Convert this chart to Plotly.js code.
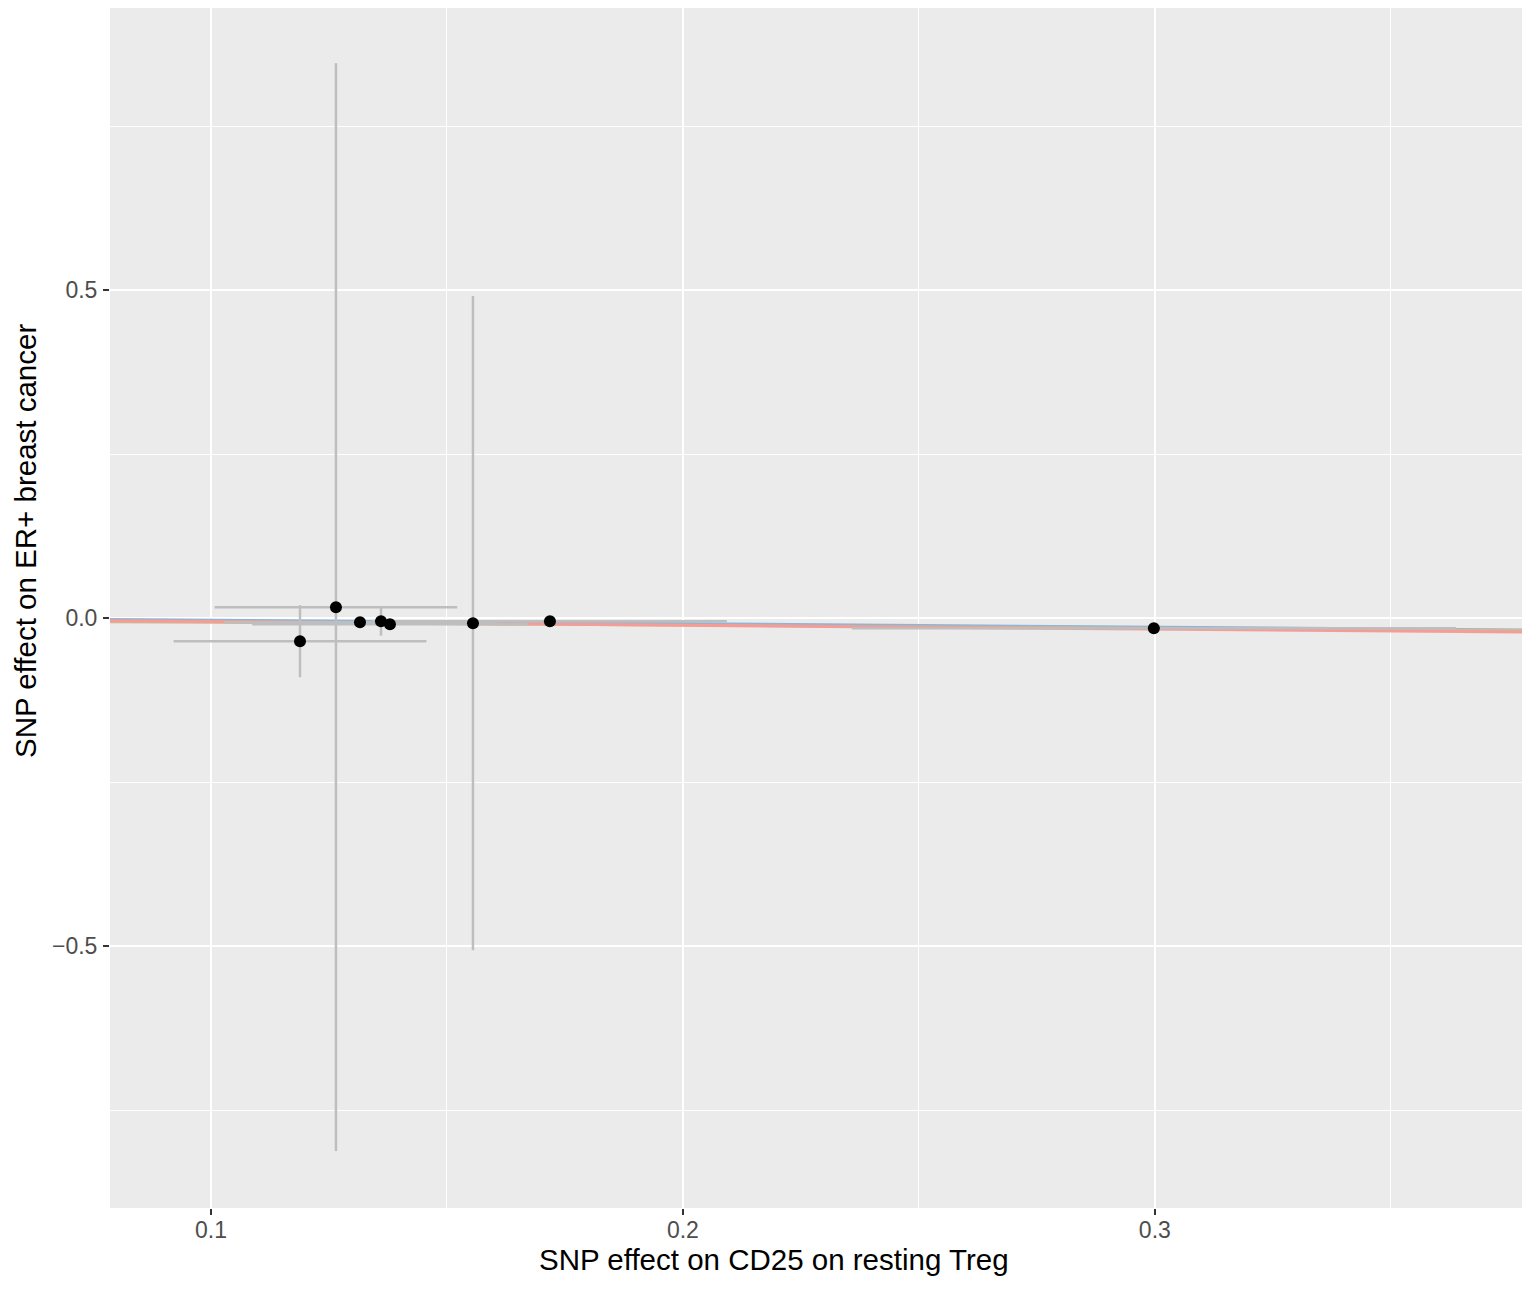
<!DOCTYPE html>
<html>
<head>
<meta charset="utf-8">
<script src="https://cdn.plot.ly/plotly-3.0.1.min.js"></script>
<style>html,body{margin:0;padding:0;background:#fff}</style>
</head>
<body>
<div id="chart" style="width:1536px;height:1291px"></div>
<script>
// SNP effects on exposure (x) and outcome (y), with standard errors
const snpX  = [0.11886, 0.12648, 0.13157, 0.13602, 0.13792, 0.15551, 0.17182, 0.29979];
const snpY  = [-0.0351, 0.0168, -0.0061, -0.0046, -0.0091, -0.0076, -0.0046, -0.0152];
const snpXse = [0.0268, 0.0257, 0.0288, 0.0020, 0.0292, 0.0030, 0.0375, 0.0640];
const snpYse = [0.0549, 0.8290, 0.0080, 0.0221, 0.0080, 0.4985, 0.0050, 0.0050];

// MR method fit lines
const methodNames = ["Method A", "Method B", "Method C"];
const methodIntercepts = [0.0027, -0.0024, 0.0007];
const methodSlopes = [-0.0537, -0.0427, -0.0575];
const methodColors = ["#8DB4D9", "#CDBB94", "#F59C96"];

const xRange = [0.0786, 0.3778];
const yRange = [-0.899, 0.930];

const xTicks = [0.1, 0.2, 0.3];
const xTickText = ["0.1", "0.2", "0.3"];
const xMinor = [0.15, 0.25, 0.35];
const yTicks = [-0.5, 0.0, 0.5];
const yTickText = ["\u22120.5", "0.0", "0.5"];
const yMinor = [-0.75, -0.25, 0.25, 0.75];

const xTitle = "SNP effect on CD25 on resting Treg";
const yTitle = "SNP effect on ER+ breast cancer";

const FONT = '"Liberation Sans", Arial, Helvetica, sans-serif';

const traces = [];
const widths = [2.5, 2.5, 3];
for (let i = 0; i < methodNames.length; i++) {
  traces.push({
    type: "scatter", mode: "lines",
    x: xRange,
    y: xRange.map(v => methodIntercepts[i] + methodSlopes[i] * v),
    line: {color: methodColors[i], width: widths[i]},
    name: methodNames[i], showlegend: false
  });
}
traces.push({
  type: "scatter", mode: "markers",
  x: snpX, y: snpY,
  marker: {color: "black", size: 12},
  error_x: {type: "data", array: snpXse, symmetric: true, color: "#BEBEBE", thickness: 2.5, width: 0},
  error_y: {type: "data", array: snpYse, symmetric: true, color: "#BEBEBE", thickness: 2.5, width: 0},
  showlegend: false
});

const axisCommon = {
  autorange: false, tickmode: "array",
  showgrid: true, gridcolor: "white", gridwidth: 2,
  zeroline: false, showline: false,
  ticks: "outside", ticklen: 6, tickwidth: 2, tickcolor: "#333333",
  tickfont: {size: 23, color: "#4D4D4D", family: FONT},
  automargin: false
};

const layout = {
  width: 1536, height: 1291,
  margin: {l: 110, r: 14, t: 8, b: 83},
  paper_bgcolor: "white",
  plot_bgcolor: "#EBEBEB",
  font: {family: FONT, color: "#4D4D4D"},
  showlegend: false,
  xaxis: Object.assign({}, axisCommon, {
    range: xRange, tickvals: xTicks, ticktext: xTickText,
    ticklabelstandoff: -5,
    minor: {tickvals: xMinor, showgrid: true, gridcolor: "white", gridwidth: 1, ticks: ""}
  }),
  yaxis: Object.assign({}, axisCommon, {
    range: yRange, tickvals: yTicks, ticktext: yTickText,
    ticklabelstandoff: 1,
    minor: {tickvals: yMinor, showgrid: true, gridcolor: "white", gridwidth: 1, ticks: ""}
  }),
  annotations: [
    {text: xTitle, xref: "paper", yref: "paper", x: 0.4703, y: -0.0433,
     xanchor: "center", yanchor: "middle", showarrow: false,
     font: {size: 29.5, color: "black", family: FONT}},
    {text: yTitle, xref: "paper", yref: "paper", x: -0.0602, y: 0.5558,
     xanchor: "center", yanchor: "middle", showarrow: false, textangle: -90,
     font: {size: 29.5, color: "black", family: FONT}}
  ]
};

Plotly.newPlot("chart", traces, layout, {staticPlot: true, displayModeBar: false});
</script>
</body>
</html>
